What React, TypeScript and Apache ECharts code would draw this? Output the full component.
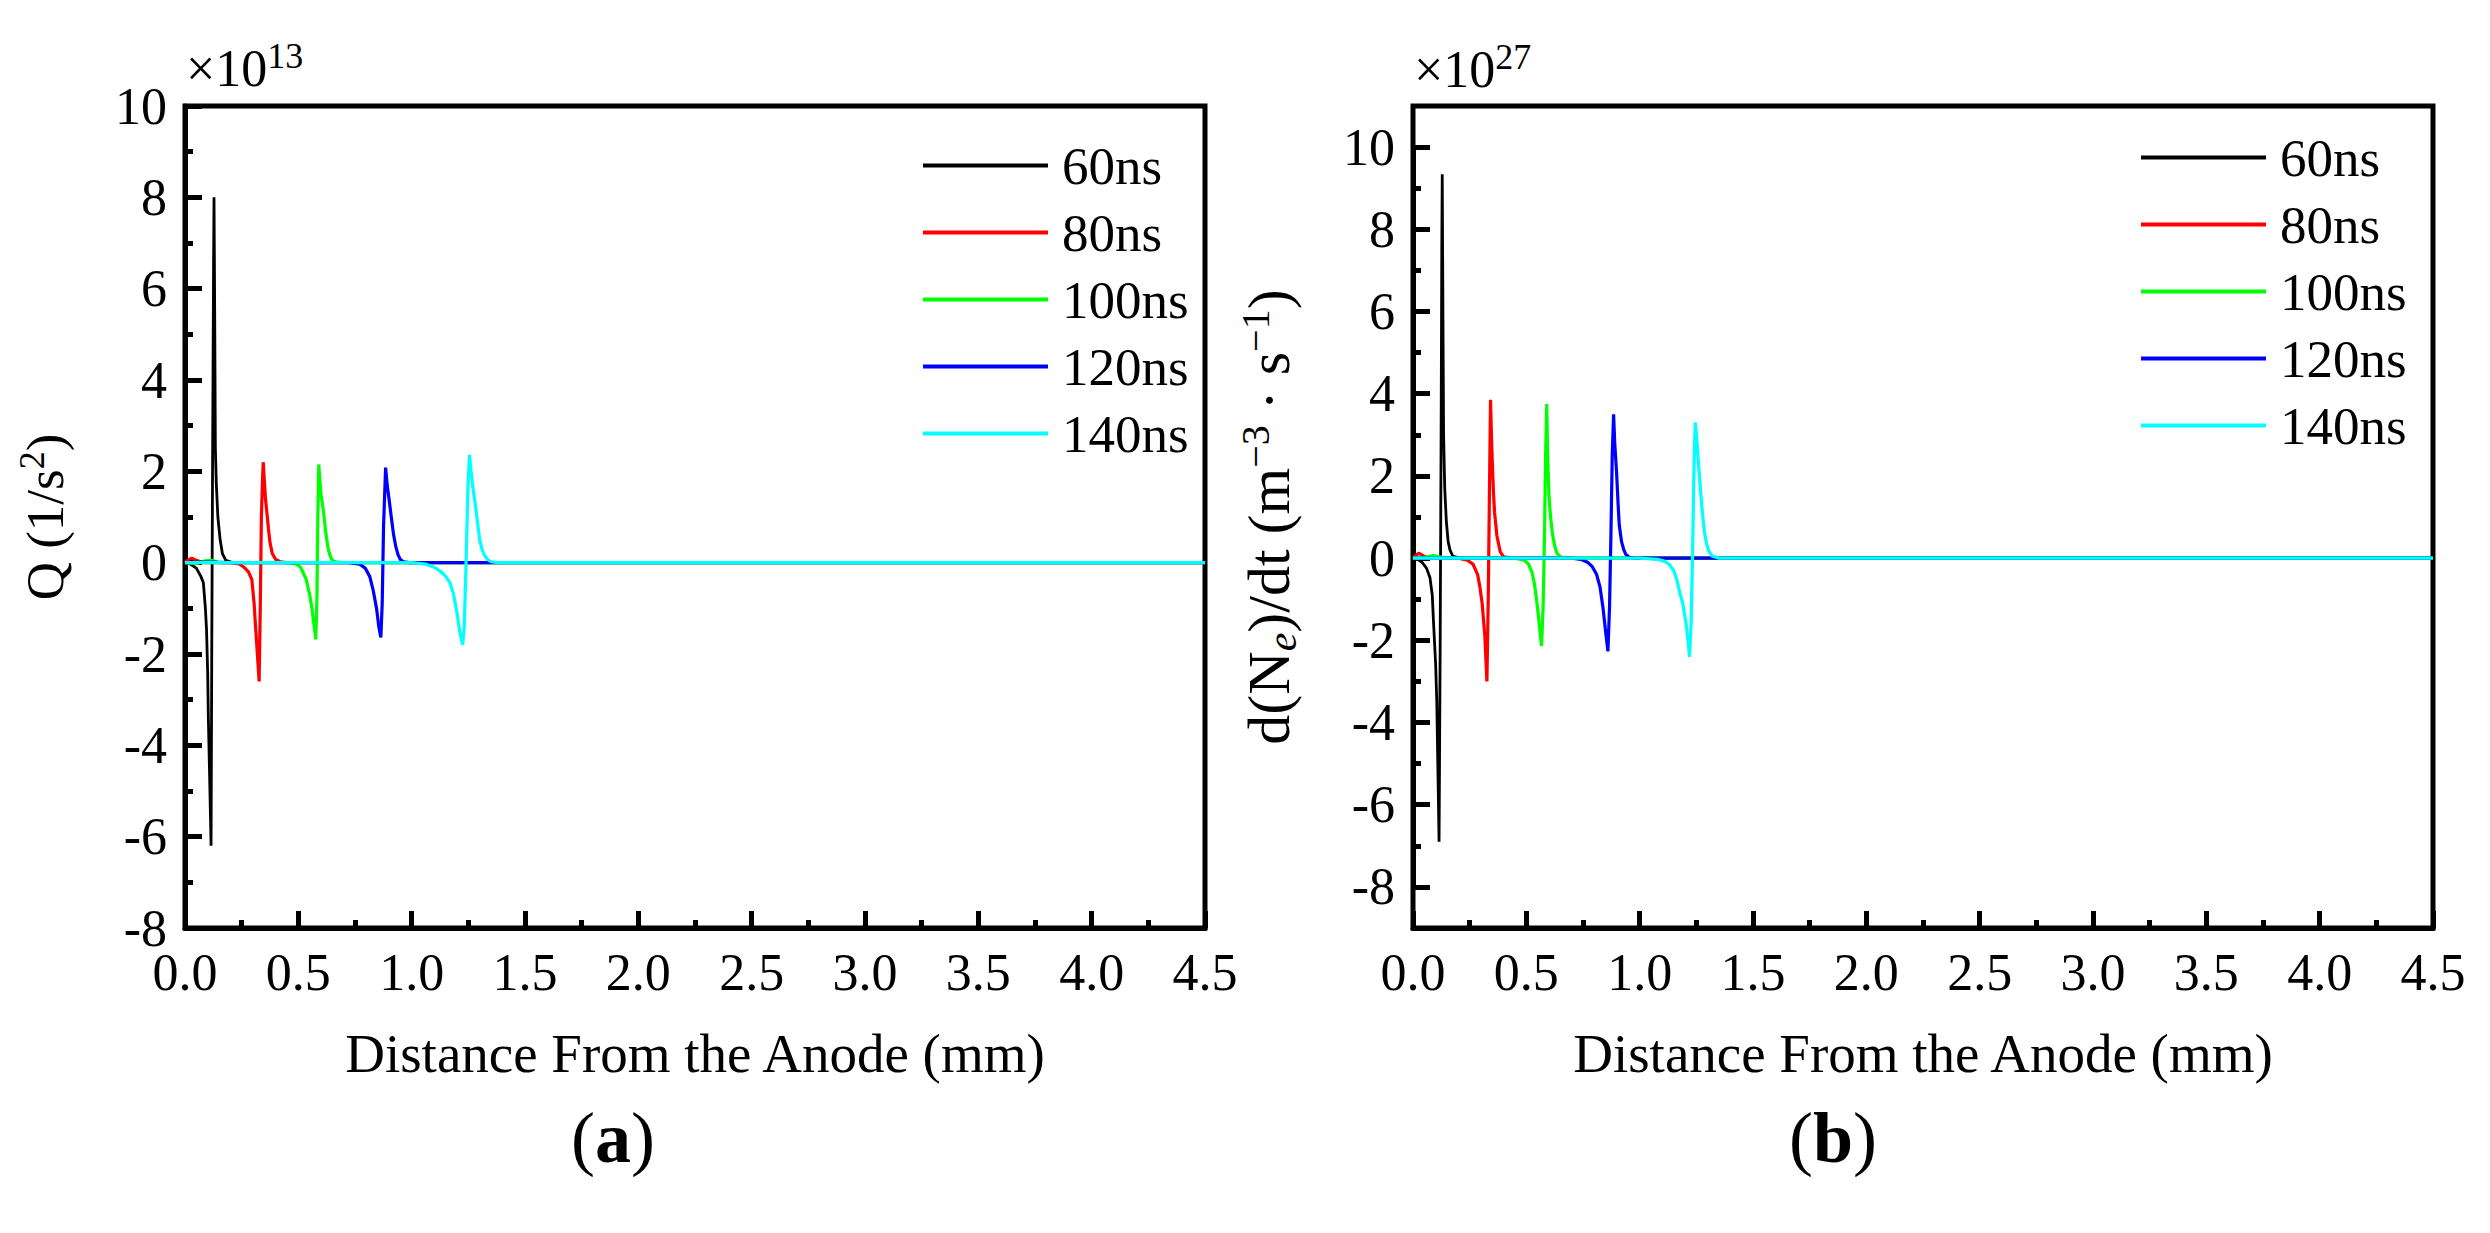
import { useEffect, useRef } from 'react';
import * as echarts from 'echarts';

// series names and colours
const seriesNames = ['60ns', '80ns', '100ns', '120ns', '140ns'];
const seriesColors = ['#000000', '#ff0000', '#00ff00', '#0000ff', '#00ffff'];

// x tick labels (mm)
const xTicks = [0, 0.5, 1, 1.5, 2, 2.5, 3, 3.5, 4, 4.5];

// (a) Q (1/s^2), in units of 1e13, points are [distance mm, value]
const q60 = [[0, 0], [0.02, -0.02], [0.05, -0.12], [0.07, -0.3], [0.081, -0.44], [0.09, -1.0], [0.095, -1.47], [0.1, -2.4], [0.103, -3.4], [0.11, -5.0], [0.115, -6.2], [0.118, -2.0], [0.122, 2.5], [0.126, 6.5], [0.128, 8.0], [0.131, 5.5], [0.134, 2.5], [0.138, 1.75], [0.145, 1.0], [0.155, 0.5], [0.165, 0.2], [0.18, 0.05], [0.21, 0], [4.5, 0]];
const q80 = [[0, 0], [0.01, 0.05], [0.03, 0.1], [0.05, 0.05], [0.08, 0], [0.2, 0], [0.24, -0.03], [0.26, -0.1], [0.28, -0.2], [0.295, -0.37], [0.305, -0.9], [0.31, -1.3], [0.318, -1.9], [0.327, -2.6], [0.332, -1.0], [0.337, 1.0], [0.342, 1.8], [0.345, 2.2], [0.35, 1.8], [0.355, 1.4], [0.36, 1.16], [0.368, 0.75], [0.375, 0.44], [0.385, 0.2], [0.4, 0.07], [0.42, 0.02], [0.45, 0], [4.5, 0]];
const q100 = [[0, 0], [0.05, -0.02], [0.09, 0.04], [0.12, 0.05], [0.15, 0], [0.45, 0], [0.49, -0.03], [0.51, -0.1], [0.535, -0.37], [0.55, -0.7], [0.56, -1.0], [0.57, -1.4], [0.577, -1.68], [0.582, -0.8], [0.586, 1.0], [0.59, 2.15], [0.595, 1.8], [0.6, 1.5], [0.61, 1.16], [0.62, 0.7], [0.63, 0.35], [0.64, 0.15], [0.65, 0.05], [0.67, 0.01], [0.7, 0], [4.5, 0]];
const q120 = [[0, 0], [0.1, 0.01], [0.2, 0], [0.72, 0], [0.77, -0.03], [0.795, -0.12], [0.815, -0.3], [0.83, -0.6], [0.845, -1.0], [0.855, -1.4], [0.864, -1.64], [0.87, -0.9], [0.876, 0.8], [0.885, 2.08], [0.892, 1.7], [0.9, 1.4], [0.91, 1.0], [0.92, 0.62], [0.93, 0.35], [0.94, 0.17], [0.95, 0.07], [0.965, 0.02], [0.99, 0], [4.5, 0]];
const q140 = [[0, 0], [1.0, 0], [1.06, -0.03], [1.1, -0.1], [1.13, -0.2], [1.15, -0.3], [1.17, -0.45], [1.185, -0.7], [1.2, -1.1], [1.212, -1.5], [1.225, -1.8], [1.232, -1.4], [1.24, 0], [1.248, 1.6], [1.255, 2.36], [1.262, 2.0], [1.27, 1.65], [1.28, 1.3], [1.29, 0.9], [1.3, 0.5], [1.31, 0.3], [1.32, 0.17], [1.335, 0.07], [1.35, 0.02], [1.38, 0], [4.5, 0]];

// (b) d(Ne)/dt, in units of 1e27
const d60 = [[0, 0], [0.02, -0.03], [0.04, -0.1], [0.06, -0.25], [0.075, -0.48], [0.085, -0.9], [0.09, -1.5], [0.1, -2.6], [0.105, -3.5], [0.11, -5.2], [0.115, -6.9], [0.12, -2.0], [0.124, 3.0], [0.127, 7.5], [0.129, 9.34], [0.132, 6.0], [0.135, 3.0], [0.14, 1.7], [0.147, 0.9], [0.155, 0.4], [0.163, 0.2], [0.175, 0.05], [0.2, 0.01], [0.23, 0], [4.5, 0]];
const d80 = [[0, 0], [0.01, 0.05], [0.025, 0.12], [0.045, 0.06], [0.07, 0.01], [0.2, 0], [0.24, -0.05], [0.265, -0.15], [0.285, -0.4], [0.295, -0.7], [0.305, -1.1], [0.317, -1.9], [0.326, -3.0], [0.332, -1.0], [0.337, 1.5], [0.342, 3.85], [0.346, 3.0], [0.35, 2.3], [0.355, 1.6], [0.36, 1.1], [0.37, 0.55], [0.385, 0.15], [0.4, 0.03], [0.43, 0], [4.5, 0]];
const d100 = [[0, 0], [0.05, 0.02], [0.09, 0.06], [0.13, 0.02], [0.2, 0], [0.45, 0], [0.49, -0.05], [0.51, -0.15], [0.525, -0.35], [0.535, -0.6], [0.545, -1.0], [0.555, -1.5], [0.567, -2.14], [0.574, -1.2], [0.58, 0.5], [0.585, 2.5], [0.59, 3.75], [0.594, 2.5], [0.6, 1.5], [0.607, 1.0], [0.615, 0.6], [0.625, 0.3], [0.635, 0.12], [0.648, 0.04], [0.67, 0], [4.5, 0]];
const d120 = [[0, 0], [0.2, 0], [0.7, 0], [0.74, -0.03], [0.77, -0.1], [0.79, -0.2], [0.81, -0.4], [0.825, -0.7], [0.838, -1.2], [0.85, -1.8], [0.86, -2.27], [0.867, -1.2], [0.873, 0.5], [0.879, 2.5], [0.885, 3.5], [0.89, 2.8], [0.898, 2.1], [0.905, 1.3], [0.91, 0.8], [0.92, 0.4], [0.93, 0.2], [0.94, 0.08], [0.955, 0.02], [0.98, 0], [4.5, 0]];
const d140 = [[0, 0], [1.0, 0], [1.08, -0.03], [1.11, -0.08], [1.13, -0.15], [1.15, -0.3], [1.165, -0.55], [1.175, -0.8], [1.19, -1.1], [1.205, -1.6], [1.215, -2.1], [1.22, -2.4], [1.227, -1.6], [1.233, 0], [1.239, 2.0], [1.245, 3.3], [1.252, 2.9], [1.258, 2.4], [1.265, 1.9], [1.275, 1.2], [1.285, 0.66], [1.295, 0.35], [1.305, 0.17], [1.32, 0.05], [1.35, 0], [4.5, 0]];

const leftData = [q60, q80, q100, q120, q140];
const rightData = [d60, d80, d100, d120, d140];

const FONT = "'Liberation Serif', 'Times New Roman', serif";

const App: React.FC = () => {
  const chartRef = useRef<HTMLDivElement>(null);

  useEffect(() => {
    if (!chartRef.current) return;
    document.body.style.margin = '0';
    const chart = echarts.init(chartRef.current, null, { renderer: 'svg' });

    const lineBlack = { color: '#000', width: 5 };
    const tickLabel = { fontFamily: FONT, fontSize: 52, color: '#000', margin: 18 };

    // visible x axis, same look for both panels
    const makeX = (gridIndex: number) => ({
      type: 'value',
      gridIndex,
      min: xTicks[0],
      max: xTicks[xTicks.length - 1],
      interval: 0.5,
      name: 'Distance From the Anode (mm)',
      nameLocation: 'middle',
      nameGap: 98,
      nameTextStyle: { fontFamily: FONT, fontSize: 55, color: '#000' },
      axisLine: { show: true, onZero: false, lineStyle: lineBlack },
      axisTick: { show: true, inside: true, length: 17, lineStyle: lineBlack },
      minorTick: { show: true, splitNumber: 2, length: 8, lineStyle: lineBlack },
      axisLabel: { ...tickLabel, formatter: (v: number) => v.toFixed(1) },
      splitLine: { show: false }
    });

    const yTickAxis = (gridIndex: number, min: number, max: number, name: string, size: number, rich: any) => ({
      type: 'value',
      gridIndex,
      min,
      max,
      interval: 2,
      name,
      nameLocation: 'middle',
      nameRotate: 90,
      nameGap: 110,
      nameTextStyle: { fontFamily: FONT, fontSize: size, color: '#000', lineHeight: size + 8, rich },
      axisLine: { show: true, onZero: false, lineStyle: lineBlack },
      axisTick: { show: true, inside: true, length: 17, lineStyle: lineBlack },
      minorTick: { show: true, splitNumber: 2, length: 8, lineStyle: lineBlack },
      axisLabel: tickLabel,
      splitLine: { show: false }
    });

    const supL = { fontFamily: FONT, fontSize: 36, lineHeight: 36, color: '#000', verticalAlign: 'top' };
    const supR = { fontFamily: FONT, fontSize: 40, lineHeight: 40, color: '#000', verticalAlign: 'top' };
    const subR = { fontFamily: FONT, fontSize: 42, lineHeight: 42, color: '#000', fontStyle: 'italic', verticalAlign: 'bottom' };

    const gridH = 822;
    const unitR = gridH / 20;

    const makeSeries = (data: number[][][], axisIndex: number) =>
      data.map((d, i) => ({
        name: seriesNames[i],
        type: 'line',
        xAxisIndex: axisIndex,
        yAxisIndex: axisIndex,
        data: d,
        showSymbol: false,
        color: seriesColors[i],
        lineStyle: { color: seriesColors[i], width: i === 0 ? 2.8 : 3.2 },
        z: 2 + i
      }));

    const makeLegend = (left: number, top: number) => ({
      orient: 'vertical',
      left,
      top,
      data: seriesNames,
      icon: 'rect',
      itemWidth: 125,
      itemHeight: 4,
      itemGap: 14,
      selectedMode: false,
      textStyle: { fontFamily: FONT, fontSize: 53, color: '#000', lineHeight: 53, padding: [0, 0, 0, 9] }
    });

    const supText = (x: number, y: number, exp: string) => ({
      type: 'text',
      x,
      y,
      style: {
        text: `{a|×10}{b|${exp}}`,
        verticalAlign: 'bottom',
        rich: {
          a: { fontFamily: FONT, fontSize: 52, lineHeight: 56, fill: '#000', color: '#000', verticalAlign: 'bottom' },
          b: { fontFamily: FONT, fontSize: 36, lineHeight: 36, fill: '#000', color: '#000', verticalAlign: 'top' }
        }
      }
    });

    const caption = (x: number, y: number, letter: string) => ({
      type: 'text',
      x,
      y,
      style: {
        text: `{p|(}{b|${letter}}{p|)}`,
        align: 'center',
        verticalAlign: 'middle',
        rich: {
          p: { fontFamily: FONT, fontSize: 72, fill: '#000', color: '#000' },
          b: { fontFamily: FONT, fontSize: 72, fontWeight: 'bold', fill: '#000', color: '#000' }
        }
      }
    });

    const option: any = {
      animation: false,
      backgroundColor: '#fff',
      grid: [
        { left: 185, top: 106, width: 1020, height: gridH, show: true, borderColor: '#000', borderWidth: 5 },
        { left: 1413, top: 106, width: 1020, height: gridH, show: true, borderColor: '#000', borderWidth: 5 },
        { left: 1413, top: 106 + unitR, width: 1020, height: gridH - 2 * unitR, show: false }
      ],
      xAxis: [
        makeX(0),
        makeX(1),
        { type: 'value', gridIndex: 2, show: false, min: 0, max: 1 }
      ],
      yAxis: [
        yTickAxis(0, -8, 10, 'Q (1/s{sup|2})', 53, { sup: supL }),
        { type: 'value', gridIndex: 1, show: false, min: -9, max: 11 },
        yTickAxis(2, -8, 10, 'd(N{sub|e})/dt (m{sup|−3} · s{sup|−1})', 60, { sup: supR, sub: subR })
      ],
      legend: [makeLegend(918, 134), makeLegend(2136, 126)],
      graphic: [
        supText(186, 94, '13'),
        supText(1414, 95, '27'),
        caption(613, 1138, 'a'),
        caption(1833, 1138, 'b')
      ],
      series: [...makeSeries(leftData, 0), ...makeSeries(rightData, 1)]
    };

    chart.setOption(option);

    return () => {
      if (!chart.isDisposed()) chart.dispose();
    };
  }, []);

  return <div ref={chartRef} style={{ width: '2490px', height: '1233px' }} />;
};

export default App;
